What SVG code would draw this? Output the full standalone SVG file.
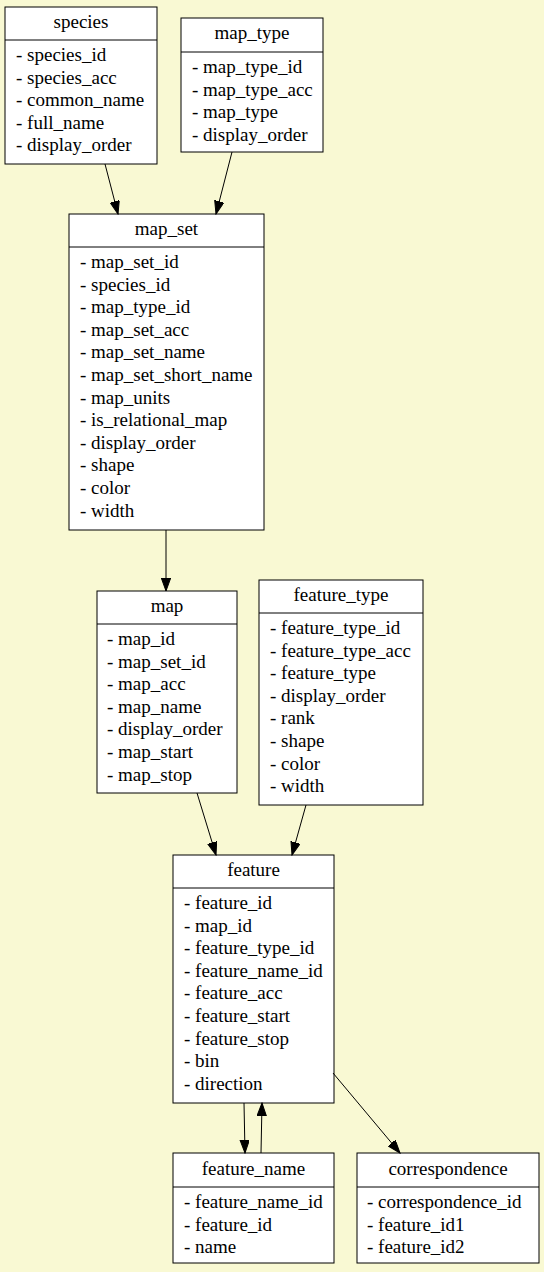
<svg xmlns="http://www.w3.org/2000/svg" width="544" height="1272" viewBox="0 0 544 1272">
<defs>
<style>
.bx{fill:#ffffff;stroke:#000000;stroke-width:1}
.ln{stroke:#000000;stroke-width:1}
text{font-family:"Liberation Serif","Times New Roman",serif;font-size:19px;fill:#000000}
.h{text-anchor:middle}
.e{fill:none;stroke:#000000;stroke-width:1;marker-end:url(#ah)}
</style>
<marker id="ah" markerUnits="userSpaceOnUse" markerWidth="14" markerHeight="10" refX="13" refY="4.7" orient="auto">
<path d="M0,0 L13,4.7 L0,9.4 z" fill="#000000" stroke="#000000" stroke-width="1"/>
</marker>
</defs>
<rect x="0" y="0" width="544" height="1272" fill="#f9f9d3"/>

<g id="species">
<rect class="bx" x="5" y="7" width="152" height="157"/>
<line class="ln" x1="5" y1="40" x2="157" y2="40"/>
<text class="h" x="81" y="28">species</text>
<text x="16" y="61">- species_id</text>
<text x="16" y="83.6">- species_acc</text>
<text x="16" y="106.2">- common_name</text>
<text x="16" y="128.8">- full_name</text>
<text x="16" y="151.4">- display_order</text>
</g>

<g id="map_type">
<rect class="bx" x="181" y="18" width="142" height="134"/>
<line class="ln" x1="181" y1="52" x2="323" y2="52"/>
<text class="h" x="252" y="39">map_type</text>
<text x="192" y="73">- map_type_id</text>
<text x="192" y="95.6">- map_type_acc</text>
<text x="192" y="118.2">- map_type</text>
<text x="192" y="140.8">- display_order</text>
</g>

<g id="map_set">
<rect class="bx" x="69" y="214" width="195" height="316"/>
<line class="ln" x1="69" y1="247" x2="264" y2="247"/>
<text class="h" x="166.5" y="235">map_set</text>
<text x="80" y="268">- map_set_id</text>
<text x="80" y="290.6">- species_id</text>
<text x="80" y="313.2">- map_type_id</text>
<text x="80" y="335.8">- map_set_acc</text>
<text x="80" y="358.4">- map_set_name</text>
<text x="80" y="381">- map_set_short_name</text>
<text x="80" y="403.6">- map_units</text>
<text x="80" y="426.2">- is_relational_map</text>
<text x="80" y="448.8">- display_order</text>
<text x="80" y="471.4">- shape</text>
<text x="80" y="494">- color</text>
<text x="80" y="516.6">- width</text>
</g>

<g id="map">
<rect class="bx" x="97" y="591" width="140" height="202"/>
<line class="ln" x1="97" y1="624" x2="237" y2="624"/>
<text class="h" x="167" y="612">map</text>
<text x="107" y="645">- map_id</text>
<text x="107" y="667.6">- map_set_id</text>
<text x="107" y="690.2">- map_acc</text>
<text x="107" y="712.8">- map_name</text>
<text x="107" y="735.4">- display_order</text>
<text x="107" y="758">- map_start</text>
<text x="107" y="780.6">- map_stop</text>
</g>

<g id="feature_type">
<rect class="bx" x="259" y="580" width="164" height="225"/>
<line class="ln" x1="259" y1="613" x2="423" y2="613"/>
<text class="h" x="341" y="601">feature_type</text>
<text x="270" y="634">- feature_type_id</text>
<text x="270" y="656.6">- feature_type_acc</text>
<text x="270" y="679.2">- feature_type</text>
<text x="270" y="701.8">- display_order</text>
<text x="270" y="724.4">- rank</text>
<text x="270" y="747">- shape</text>
<text x="270" y="769.6">- color</text>
<text x="270" y="792.2">- width</text>
</g>

<g id="feature">
<rect class="bx" x="173" y="855" width="161" height="248"/>
<line class="ln" x1="173" y1="888" x2="334" y2="888"/>
<text class="h" x="253.5" y="876">feature</text>
<text x="184" y="909">- feature_id</text>
<text x="184" y="931.6">- map_id</text>
<text x="184" y="954.2">- feature_type_id</text>
<text x="184" y="976.8">- feature_name_id</text>
<text x="184" y="999.4">- feature_acc</text>
<text x="184" y="1022">- feature_start</text>
<text x="184" y="1044.6">- feature_stop</text>
<text x="184" y="1067.2">- bin</text>
<text x="184" y="1089.8">- direction</text>
</g>

<g id="feature_name">
<rect class="bx" x="173" y="1153" width="161" height="110"/>
<line class="ln" x1="173" y1="1187" x2="334" y2="1187"/>
<text class="h" x="253.5" y="1175">feature_name</text>
<text x="184" y="1208">- feature_name_id</text>
<text x="184" y="1230.6">- feature_id</text>
<text x="184" y="1253.2">- name</text>
</g>

<g id="correspondence">
<rect class="bx" x="357" y="1153" width="182" height="110"/>
<line class="ln" x1="357" y1="1187" x2="539" y2="1187"/>
<text class="h" x="448" y="1175">correspondence</text>
<text x="367" y="1208">- correspondence_id</text>
<text x="367" y="1230.6">- feature_id1</text>
<text x="367" y="1253.2">- feature_id2</text>
</g>

<g id="connectors">
<path class="e" d="M105,164 L118,214"/>
<path class="e" d="M232,152 L216,214"/>
<path class="e" d="M166,530 L166,591"/>
<path class="e" d="M197,793 L216,855"/>
<path class="e" d="M306,805 L292,855"/>
<path class="e" d="M244,1103 L245,1153"/>
<path class="e" d="M261,1153 L262,1103"/>
<path class="e" d="M333,1073 L400,1153"/>
</g>
</svg>
